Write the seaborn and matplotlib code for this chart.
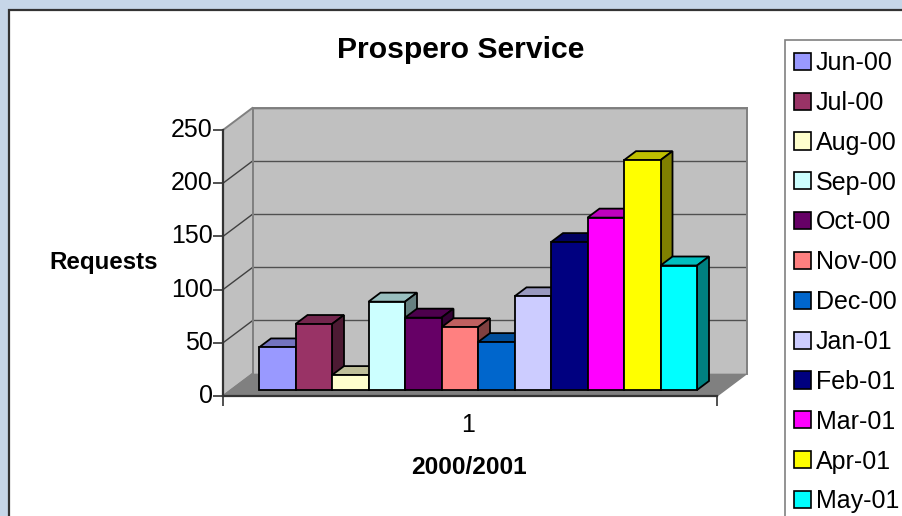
import matplotlib
matplotlib.use("Agg")
import matplotlib.pyplot as plt
from matplotlib.colors import to_rgb
from matplotlib.patches import Patch, Polygon, Rectangle
from matplotlib.transforms import ScaledTranslation
import pandas as pd
import seaborn as sns

months = ["Jun-00", "Jul-00", "Aug-00", "Sep-00", "Oct-00", "Nov-00",
          "Dec-00", "Jan-01", "Feb-01", "Mar-01", "Apr-01", "May-01"]
requests = [40, 62, 14, 83, 68, 59, 45, 88, 139, 162, 216, 117]
colors = ["#9999FF", "#993366", "#FFFFCC", "#CCFFFF", "#660066", "#FF8080",
          "#0066CC", "#CCCCFF", "#000080", "#FF00FF", "#FFFF00", "#00FFFF"]
y_ticks = [0, 50, 100, 150, 200, 250]
title = "Prospero Service"
x_label = "2000/2001"
y_label = "Requests"
category = "1"

W, H = 902, 516
FONT = ["Liberation Sans", "DejaVu Sans"]
sns.set_style("white")
plt.rcParams.update({"font.family": FONT, "text.color": "black", "axes.labelcolor": "black",
                     "xtick.color": "black", "ytick.color": "black"})

# Plot frame in pixels
FL, FR, FB, FT = 223, 717, 396, 130      # front plane
DX, DY = 30, -22.5                       # full depth of the plot box
BL, BR, BB, BT = 259, 697, 390, 124      # plane of the bar fronts
BAR_DX_PX, BAR_DY_PX = 12, -9            # depth of one bar
GREY, DARK = "#808080", "#333333"
TICK_SIZE = 18
LW = 1.3


def axes_px(left, right, bottom, top, **kw):
    return fig.add_axes([left / W, 1 - bottom / H, (right - left) / W, (bottom - top) / H], **kw)


fig = plt.figure(figsize=(W / 100, H / 100), dpi=100, facecolor="#C6D6E8")

# Pixel canvas: card, left wall, floor
bg = fig.add_axes([0, 0, 1, 1], zorder=0)
bg.set_xlim(0, W)
bg.set_ylim(H, 0)
bg.axis("off")
bg.add_patch(Rectangle((9, 10), W, H, facecolor="white", edgecolor=DARK, lw=1.6))
bg.add_patch(Polygon([(FL, FB), (FL + DX, FB + DY), (FL + DX, FT + DY), (FL, FT)],
                     facecolor="#C0C0C0", edgecolor=GREY, lw=1.4))
bg.add_patch(Polygon([(FL, FB), (FR, FB), (FR + DX, FB + DY), (FL + DX, FB + DY)],
                     facecolor=GREY, edgecolor=GREY, lw=1))
for t in y_ticks[1:-1]:
    yp = FB - (FB - FT) * t / y_ticks[-1]
    bg.plot([FL, FL + DX], [yp, yp + DY], color="#404040", lw=1)
bg.add_patch(Rectangle((785, 40), W, H, facecolor="white", edgecolor=GREY, lw=1.2))

# Back wall
back = axes_px(FL + DX, FR + DX, FB + DY, FT + DY, zorder=1, facecolor="#C0C0C0")
back.set_ylim(0, y_ticks[-1])
back.set_yticks(y_ticks)
back.set_xticks([])
back.tick_params(left=False, labelleft=False)
back.grid(axis="y", color="#505050", lw=1)
for name, spine in back.spines.items():
    spine.set_color(GREY)
    spine.set_linewidth(1.4)
back.spines["bottom"].set_visible(False)

# Front axis
front = axes_px(FL, FR, FB, FT, zorder=2)
front.patch.set_visible(False)
front.set_ylim(0, y_ticks[-1])
front.set_xlim(0, 1)
front.set_yticks(y_ticks)
front.set_xticks([0, 1])
front.set_xticklabels([])
front.set_xticks([0.497], [category], minor=True)
front.tick_params(axis="y", labelsize=TICK_SIZE, length=7, width=1.2, color=DARK, pad=0.5, left=True)
front.tick_params(axis="x", which="major", length=7, width=1.2, color=DARK, bottom=True)
front.tick_params(axis="x", which="minor", length=0, labelsize=TICK_SIZE, pad=12.5, bottom=False)
lift = ScaledTranslation(0, 2.5 / 100, fig.dpi_scale_trans)
for label in front.get_yticklabels():
    label.set_transform(label.get_transform() + lift)
for name in ("top", "right"):
    front.spines[name].set_visible(False)
for name in ("left", "bottom"):
    front.spines[name].set_color(DARK)
    front.spines[name].set_linewidth(1.6)
front.set_xlabel(x_label, fontsize=17.6, fontweight="bold", va="center")
front.xaxis.set_label_coords((468.5 - FL) / (FR - FL), (FB - 468) / (FB - FT))
front.set_ylabel(y_label, fontsize=17.4, fontweight="bold", rotation=0, ha="center", va="center")
front.yaxis.set_label_coords((103.5 - FL) / (FR - FL), (FB - 262) / (FB - FT))

# Bars through seaborn, then their top and side faces
bars = axes_px(BL, BR, BB, BT, zorder=3)
bars.patch.set_visible(False)
df = pd.DataFrame({"month": months, "requests": requests})
sns.barplot(data=df, x="month", y="requests", hue="month", order=months, hue_order=months,
            palette=colors, dodge=False, width=1, legend=False, saturation=1,
            edgecolor="black", linewidth=LW, ax=bars)
bars.set_xlim(-0.5, len(months) - 0.5)
bars.set_ylim(0, y_ticks[-1])
bars.axis("off")

unit_x = (BR - BL) / len(months)
unit_y = (BB - BT) / y_ticks[-1]
dx_d = BAR_DX_PX / unit_x
dy_d = -BAR_DY_PX / unit_y


def shade(color, f):
    return tuple(c * f for c in to_rgb(color))


bar_patches = [p for p in bars.patches if p.get_height() > 0]
bar_patches.sort(key=lambda p: p.get_x())
handles = []
for i, (p, color) in enumerate(zip(bar_patches, colors)):
    x0, w, h = p.get_x(), p.get_width(), p.get_height()
    x1 = x0 + w
    base = 3 * i + 3
    p.set_zorder(base + 2)
    p.set_clip_on(False)
    bars.add_patch(Polygon([(x0, h), (x1, h), (x1 + dx_d, h + dy_d), (x0 + dx_d, h + dy_d)],
                           facecolor=shade(color, 0.75), edgecolor="black", lw=LW,
                           zorder=base, clip_on=False, joinstyle="miter"))
    bars.add_patch(Polygon([(x1, 0), (x1 + dx_d, dy_d), (x1 + dx_d, h + dy_d), (x1, h)],
                           facecolor=shade(color, 0.5), edgecolor="black", lw=LW,
                           zorder=base + 1, clip_on=False, joinstyle="miter"))
    handles.append(Patch(facecolor=color, edgecolor="black", lw=1.2))

bg.text(461, 50, title, fontsize=21.7, fontweight="bold", ha="center", va="center")

leg = fig.legend(handles, months, loc="upper left", bbox_to_anchor=(785 / W, 1 - 42 / H),
                 bbox_transform=fig.transFigure, borderaxespad=0, fontsize=TICK_SIZE,
                 frameon=False, handlelength=0.68, handleheight=0.68, handletextpad=0.2,
                 labelspacing=0.634, borderpad=0.36, labelcolor="black")
leg.set_zorder(5)

fig.savefig("out.png", dpi=100, facecolor=fig.get_facecolor())
